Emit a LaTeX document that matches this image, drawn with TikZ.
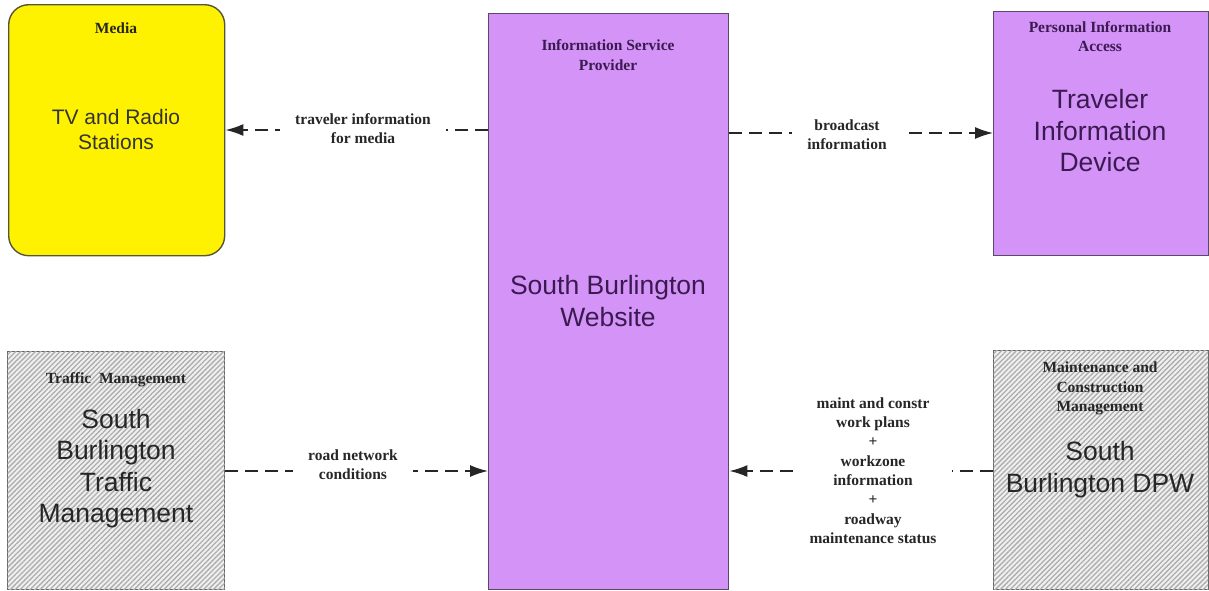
\documentclass[tikz,border=0pt]{standalone}
\usepackage{fontspec}
\setmainfont{Liberation Serif}
\newfontfamily\arialf{Liberation Sans}
\usetikzlibrary{arrows.meta,patterns.meta}
\definecolor{purp}{HTML}{D493F7}
\definecolor{purpline}{HTML}{5A4868}
\definecolor{purptext}{HTML}{3A1A50}
\definecolor{yelline}{HTML}{55553A}
\definecolor{hatchbg}{HTML}{F0F0F0}
\definecolor{hatchln}{HTML}{ADADAD}
\definecolor{labtext}{HTML}{262626}
\begin{document}
\begin{tikzpicture}[x=1pt,y=-1pt,
  box/.style={draw, line width=1.4pt, inner sep=0pt, anchor=north west},
  purpbox/.style={box, fill=purp, draw=purpline},
  hatchbox/.style={box, draw=black!60, fill=hatchbg,
    postaction={pattern={Lines[angle=45,distance=3.5pt,line width=1.3pt]}, pattern color=hatchln}},
  ttl/.style={font=\bfseries\fontsize{15.5}{19.3}\selectfont, align=center, inner sep=0pt},
  big/.style={font=\arialf\fontsize{26.5}{31.5}\selectfont, align=center, inner sep=0pt},
  lab/.style={font=\bfseries\fontsize{15.5}{19.3}\selectfont, align=center, inner xsep=15pt, inner ysep=0pt, fill=white, text=labtext},
  flow/.style={draw=black!85, line width=1.6pt, dash pattern=on 13pt off 7pt,
    -{Latex[length=18pt,width=12pt]}}
]
\useasboundingbox (0,0) rectangle (1209,590);

% boxes
\node[box, fill=yellow, draw=yelline, rounded corners=20pt, minimum width=216pt, minimum height=251pt] (media) at (8,4) {};
\node[purpbox, minimum width=240pt, minimum height=576pt] (isp) at (488,13) {};
\node[purpbox, minimum width=214.5pt, minimum height=244pt] (pia) at (993,11) {};
\node[hatchbox, minimum width=217pt, minimum height=238pt] (tm) at (7,351) {};
\node[hatchbox, minimum width=214.5pt, minimum height=239pt] (mcm) at (993,350) {};

% titles
\node[ttl, text=black!85] (mediat) at (116,28) {Media};
\node[ttl, text=purptext] (ispt) at (608,55) {Information Service\\Provider};
\node[ttl, text=purptext] (piat) at (1100,36.5) {Personal Information\\Access};
\node[ttl, text=black!85] (tmt) at (116,380) {Traffic~ Management};
\node[ttl, text=black!85] (mcmt) at (1100,388.5) {Maintenance and\\Construction\\Management};

% main texts
\node[big, font=\arialf\fontsize{21}{25}\selectfont, text=black!80] (mediam) at (116,129.5) {TV and Radio\\Stations};
\node[big, text=purptext] (ispm) at (608,301) {South Burlington\\Website};
\node[big, text=purptext] (piam) at (1100,131) {Traveler\\Information\\Device};
\node[big, text=black!85] (tmm) at (116,468.5) {South\\Burlington\\Traffic\\Management};
\node[big, text=black!85] (mcmm) at (1100,469.5) {South\\Burlington DPW};

% connector levels
\coordinate (ya) at (0,130);
\coordinate (yb) at (0,133);
\coordinate (yc) at (0,471);

% connectors
\draw[flow] (isp.west |- ya) -- (media.east |- ya);
\draw[flow] (isp.east |- yb) -- (pia.west |- yb);
\draw[flow] (tm.east |- yc) -- (isp.west |- yc);
\draw[flow] (mcm.west |- yc) -- (isp.east |- yc);

% connector labels
\node[lab] (la) at (363,128.5) {traveler information\\for media};
\node[lab] (lb) at (847,134.5) {broadcast\\information};
\node[lab] (lc) at (353,464.5) {road network\\conditions};
\node[lab] (ld) at (873,470.5) {maint and constr\\work plans\\+\\workzone\\information\\+\\roadway\\maintenance status};
\end{tikzpicture}
\end{document}
